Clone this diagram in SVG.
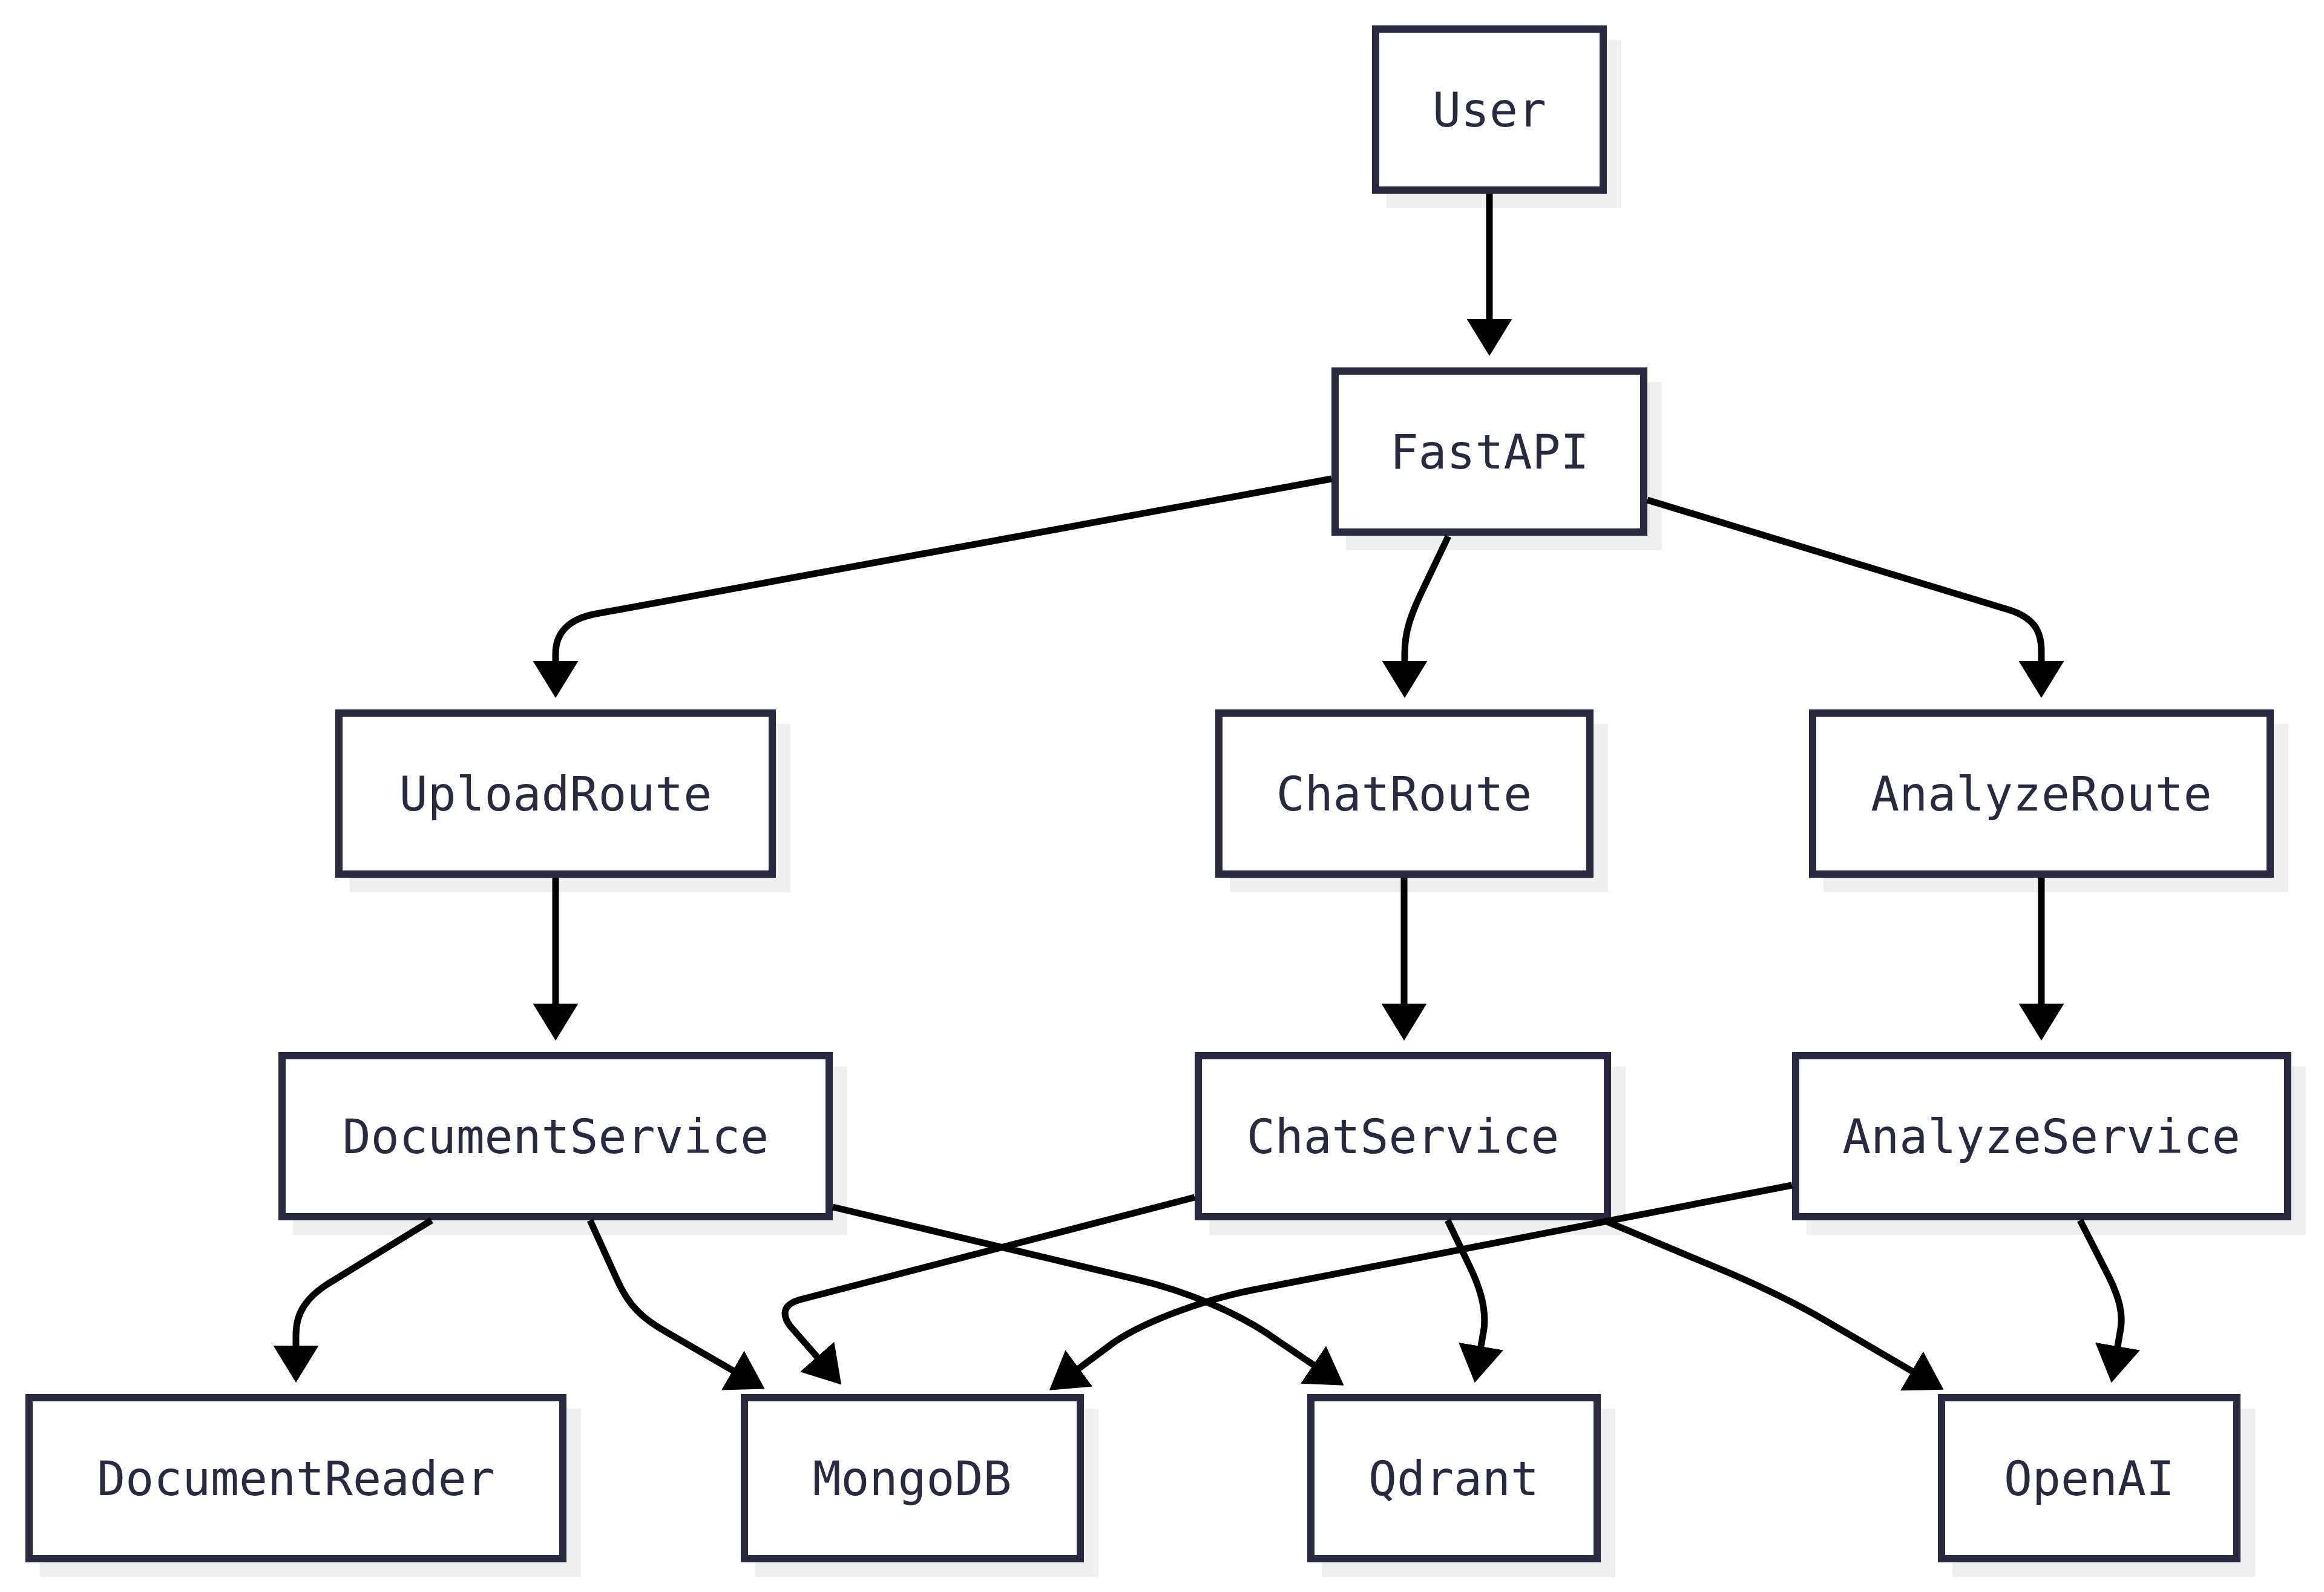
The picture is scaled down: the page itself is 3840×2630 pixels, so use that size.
<svg xmlns="http://www.w3.org/2000/svg" width="3840" height="2630" viewBox="0 0 3840 2630">
<defs>
<style>
.sh{fill:#efefef;stroke:none}
.bx{fill:#ffffff;stroke:#29293f;stroke-width:12}
.tx{font-family:"DejaVu Sans Mono","Liberation Mono",monospace;font-size:78px;fill:#29293f;text-anchor:middle}
.ed{fill:none;stroke:#000000;stroke-width:11;stroke-linejoin:round;marker-end:url(#arr)}
</style>
<marker id="arr" markerUnits="userSpaceOnUse" markerWidth="61" markerHeight="75" viewBox="0 0 61 75" refX="6" refY="37.5" orient="auto">
<path d="M0,0 L61,37.5 L0,75 z" fill="#000000"/>
</marker>
</defs>
<rect x="0" y="0" width="3840" height="2630" fill="#ffffff"/>
<g id="nodes">
<g id="User"><rect class="sh" x="2291" y="66" width="388" height="278"/><rect class="bx" x="2273" y="48" width="376" height="266"/><text class="tx" x="2461" y="209">User</text></g>
<g id="FastAPI"><rect class="sh" x="2224" y="631" width="522" height="278"/><rect class="bx" x="2206" y="613" width="510" height="266"/><text class="tx" x="2461" y="774">FastAPI</text></g>
<g id="UploadRoute"><rect class="sh" x="578" y="1196" width="728" height="278"/><rect class="bx" x="560" y="1178" width="716" height="266"/><text class="tx" x="918" y="1339">UploadRoute</text></g>
<g id="ChatRoute"><rect class="sh" x="2032" y="1196" width="625" height="278"/><rect class="bx" x="2014" y="1178" width="613" height="266"/><text class="tx" x="2320" y="1339">ChatRoute</text></g>
<g id="AnalyzeRoute"><rect class="sh" x="3013" y="1196" width="768" height="278"/><rect class="bx" x="2995" y="1178" width="756" height="266"/><text class="tx" x="3373" y="1339">AnalyzeRoute</text></g>
<g id="DocumentService"><rect class="sh" x="484" y="1762" width="916" height="278"/><rect class="bx" x="466" y="1744" width="904" height="266"/><text class="tx" x="918" y="1905">DocumentService</text></g>
<g id="ChatService"><rect class="sh" x="1998" y="1762" width="688" height="278"/><rect class="bx" x="1980" y="1744" width="676" height="266"/><text class="tx" x="2318" y="1905">ChatService</text></g>
<g id="AnalyzeService"><rect class="sh" x="2985" y="1762" width="825" height="278"/><rect class="bx" x="2967" y="1744" width="813" height="266"/><text class="tx" x="3373" y="1905">AnalyzeService</text></g>
<g id="DocumentReader"><rect class="sh" x="66" y="2327" width="894" height="278"/><rect class="bx" x="48" y="2309" width="882" height="266"/><text class="tx" x="489" y="2470">DocumentReader</text></g>
<g id="MongoDB"><rect class="sh" x="1248" y="2327" width="567" height="278"/><rect class="bx" x="1230" y="2309" width="555" height="266"/><text class="tx" x="1507" y="2470">MongoDB</text></g>
<g id="Qdrant"><rect class="sh" x="2184" y="2327" width="485" height="278"/><rect class="bx" x="2166" y="2309" width="473" height="266"/><text class="tx" x="2402" y="2470">Qdrant</text></g>
<g id="OpenAI"><rect class="sh" x="3226" y="2327" width="500" height="278"/><rect class="bx" x="3208" y="2309" width="488" height="266"/><text class="tx" x="3452" y="2470">OpenAI</text></g>
</g>
<g id="connectors">
<path class="ed" d="M2461,320 L2461,533"/>
<path class="ed" d="M2200,791 L985,1014 C940,1022 918,1045 918,1080 L918,1098"/>
<path class="ed" d="M2393,886 L2350,976 C2330,1018 2321,1045 2321,1080 L2321,1098"/>
<path class="ed" d="M2722,826 L3318,1007 C3358,1019 3373,1040 3373,1075 L3373,1098"/>
<path class="ed" d="M918,1450 L918,1664"/>
<path class="ed" d="M2320,1450 L2320,1664"/>
<path class="ed" d="M3373,1450 L3373,1664"/>
<path class="ed" d="M713,2016 L540,2122 C505,2145 489,2170 489,2205 L489,2229"/>
<path class="ed" d="M975,2016 L1020,2115 C1040,2160 1065,2180 1100,2200 L1216,2267"/>
<path class="ed" d="M1974,1978 L1322,2147 Q1283,2158 1305,2190 L1354,2246"/>
<path class="ed" d="M2961,1958 L2070,2131 C2000,2145 1897,2179 1840,2218 L1778,2264"/>
<path class="ed" d="M1376,1994 L1880,2114 C1960,2133 2050,2170 2110,2214 L2175,2258"/>
<path class="ed" d="M2392,2016 L2425,2085 C2445,2125 2456,2160 2452,2195 L2446,2230"/>
<path class="ed" d="M2650,2016 L2860,2104 C2920,2130 2970,2155 3010,2178 L3164,2268"/>
<path class="ed" d="M3437,2016 L3485,2110 C3502,2145 3508,2170 3504,2195 L3498,2230"/>
</g>
</svg>
